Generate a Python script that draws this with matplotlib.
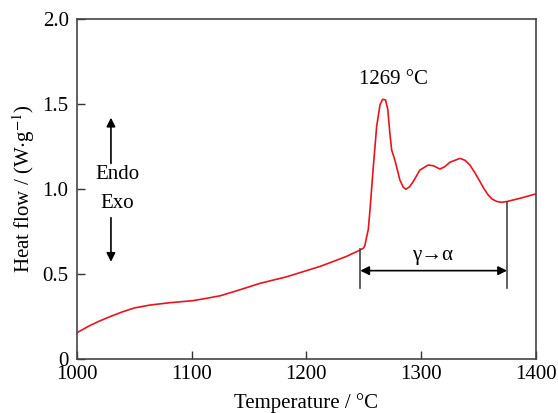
import matplotlib
matplotlib.use("Agg")
import matplotlib.pyplot as plt

plt.rcParams['font.family'] = ['Liberation Serif', 'DejaVu Serif']
plt.rcParams['mathtext.fontset'] = 'stix'

# DSC heating curve
temperature = [1000, 1010, 1020, 1030, 1040, 1050, 1063.6, 1081, 1101, 1113, 1125,
               1142, 1159.5, 1183, 1200, 1212, 1223, 1235, 1247, 1249.6, 1251,
               1252.6, 1254, 1255.5, 1258.4, 1261.3, 1264.2, 1266.5, 1269, 1271,
               1272.8, 1274.4, 1277.2, 1281.6, 1284.5, 1286.8, 1290, 1293.2, 1299,
               1306.3, 1311, 1316.5, 1320.5, 1325.2, 1334, 1338.5, 1342.6, 1347,
               1351.4, 1355, 1358.6, 1362, 1366, 1370, 1374.6, 1386, 1400]
heat_flow = [0.152, 0.190, 0.222, 0.250, 0.276, 0.298, 0.315, 0.329, 0.341, 0.355,
             0.370, 0.405, 0.443, 0.482, 0.518, 0.543, 0.571, 0.602, 0.640, 0.650,
             0.665, 0.718, 0.76, 0.876, 1.131, 1.367, 1.495, 1.528, 1.525, 1.470,
             1.330, 1.229, 1.170, 1.052, 1.010, 0.998, 1.012, 1.043, 1.111, 1.141,
             1.136, 1.117, 1.130, 1.157, 1.180, 1.168, 1.141, 1.095, 1.043, 1.000,
             0.964, 0.940, 0.926, 0.921, 0.925, 0.944, 0.970]

peak_temp = 1269
transition_start = 1247
transition_end = 1375

fig = plt.figure(figsize=(5.58, 4.13), dpi=100)
ax = fig.add_axes([77 / 558, 1 - 358.5 / 413, (535.7 - 77) / 558, (358.5 - 19.3) / 413])

ax.plot(temperature, heat_flow, color='#e8141c', lw=1.2)

ax.set_xlim(1000, 1400)
ax.set_ylim(0, 2.0)
ax.set_xticks([1000, 1100, 1200, 1300, 1400])
ax.set_yticks([0, 0.5, 1.0, 1.5, 2.0])
ax.set_yticklabels(['0', '0.5', '1.0', '1.5', '2.0'])
ax.tick_params(direction='in', length=6, width=1, labelsize=15, color='#333333')
ax.tick_params(axis='x', pad=5)
ax.tick_params(axis='y', pad=6)
for s in ax.spines.values():
    s.set_color('#444444')
    s.set_linewidth(1.2)

ax.set_xlabel('Temperature / °C', fontsize=15, labelpad=6)
ax.set_ylabel(r'Heat flow / (W$\cdot$g$^{-1}$)', fontsize=15, labelpad=4)

# Peak annotation
ax.text(1276, 1.645, f'{peak_temp} °C', fontsize=15, ha='center', va='center')

# Transition range markers
ax.plot([transition_start, transition_start], [0.416, 0.645], color='#444444', lw=1.2)
ax.plot([transition_end, transition_end], [0.416, 0.925], color='#444444', lw=1.2)
ax.annotate('', xy=(transition_start, 0.518), xytext=(transition_end, 0.518),
            arrowprops=dict(arrowstyle='<|-|>', color='black', lw=1.2,
                            shrinkA=0, shrinkB=0, mutation_scale=13))
ax.text(1310, 0.61, 'γ→α', fontsize=15, ha='center', va='center')

# Endo / Exo direction indicator
ax.annotate('', xy=(1029.6, 1.42), xytext=(1029.6, 1.15),
            arrowprops=dict(arrowstyle='-|>', color='black', lw=1.2,
                            shrinkA=0, shrinkB=0, mutation_scale=13))
ax.annotate('', xy=(1029.6, 0.57), xytext=(1029.6, 0.83),
            arrowprops=dict(arrowstyle='-|>', color='black', lw=1.2,
                            shrinkA=0, shrinkB=0, mutation_scale=13))
ax.text(1035, 1.082, 'Endo', fontsize=15, ha='center', va='center')
ax.text(1035, 0.915, 'Exo', fontsize=15, ha='center', va='center')

fig.savefig('out.png', dpi=100)
